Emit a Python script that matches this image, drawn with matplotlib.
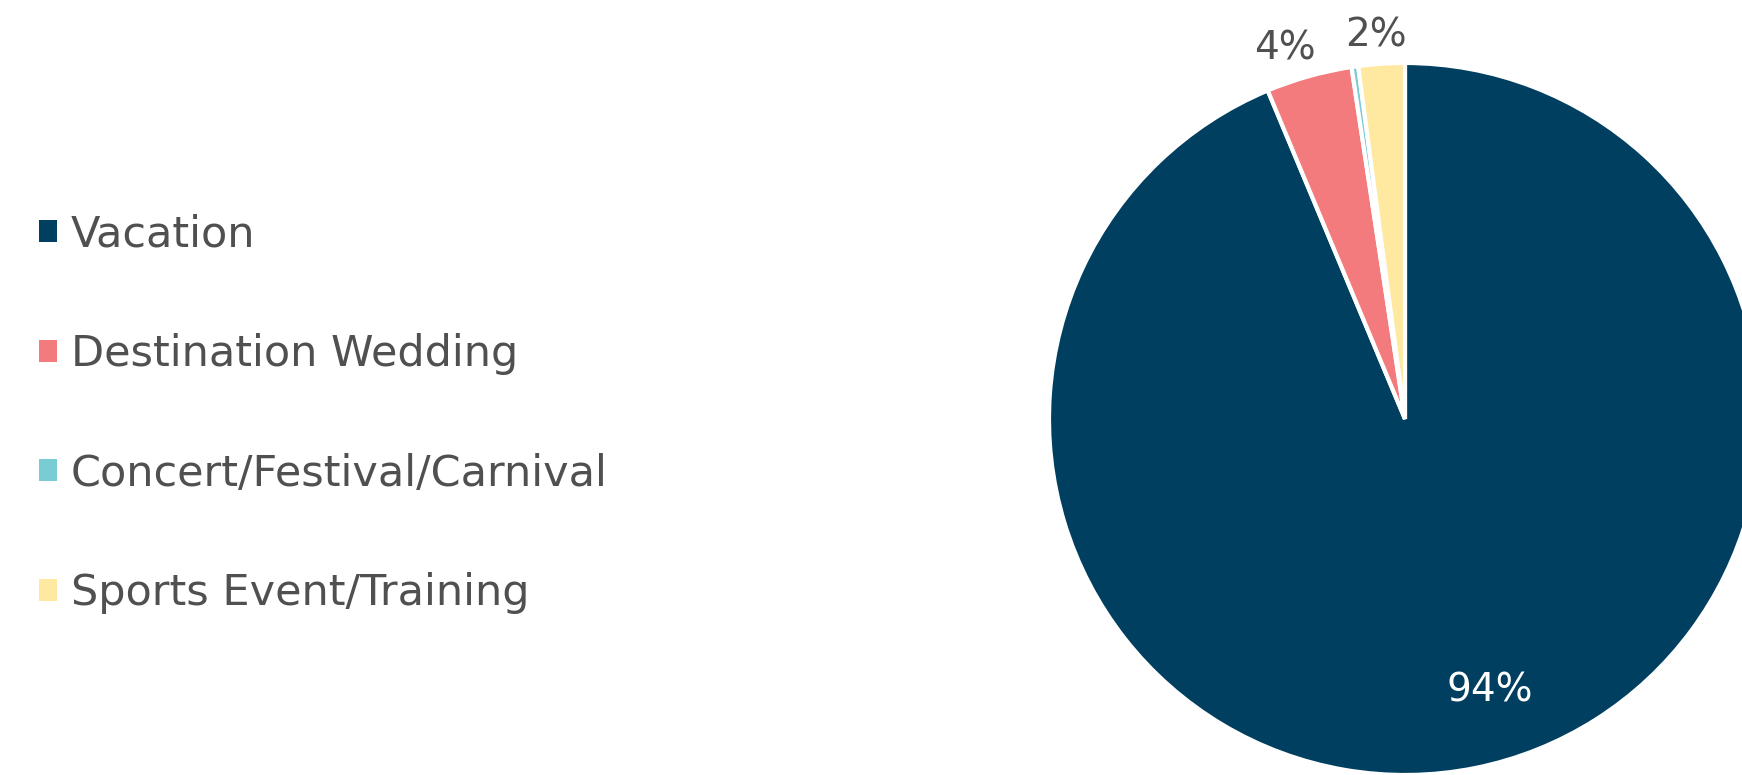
import numpy as np
import matplotlib.pyplot as plt
from matplotlib.patches import Patch

plt.rcParams['font.family'] = ['DejaVu Sans']

categories = ['Vacation', 'Destination Wedding', 'Concert/Festival/Carnival', 'Sports Event/Training']
shares = [93.7, 3.9, 0.3, 2.1]
labels = ['94%', '4%', '', '2%']
colors = ['#003F60', '#F37B7E', '#7ACCD4', '#FFE89F']
text_grey = '#505050'

fig = plt.figure(figsize=(17.42, 7.75), dpi=100)

# pie axes, deliberately running past the right edge like the original
cx, cy, r = 1405, 775 - 419, 356
ax = fig.add_axes([(cx - r) / 1742, (cy - r) / 775, 2 * r / 1742, 2 * r / 775])
wedges, _ = ax.pie(shares, colors=colors, startangle=90, counterclock=False,
                   radius=1, wedgeprops=dict(edgecolor='white', linewidth=3))
ax.set_xlim(-1, 1)
ax.set_ylim(-1, 1)
ax.set_aspect('equal')
ax.axis('off')

for w, lab in zip(wedges, labels):
    if not lab:
        continue
    mid = (w.theta1 + w.theta2) / 2
    if w.theta2 - w.theta1 > 180:
        a = np.deg2rad(mid + 6)
        ax.text(0.8 * np.cos(a), 0.8 * np.sin(a), lab, color='white', fontsize=28,
                ha='center', va='center', clip_on=False)
    else:
        a = np.deg2rad(mid)
        ax.text(1.25 * np.cos(a), 1.08 * np.sin(a), lab, color=text_grey, fontsize=28,
                ha='center', va='center', clip_on=False)

handles = [Patch(facecolor=c, edgecolor='none') for c in colors]
fig.legend(handles, categories, loc='center left', bbox_to_anchor=(0.010, 0.466),
           frameon=False, fontsize=31, labelcolor=text_grey, borderpad=0,
           handlelength=0.42, handleheight=0.42, handletextpad=0.32, labelspacing=1.8)

fig.savefig('out.png', dpi=100)
